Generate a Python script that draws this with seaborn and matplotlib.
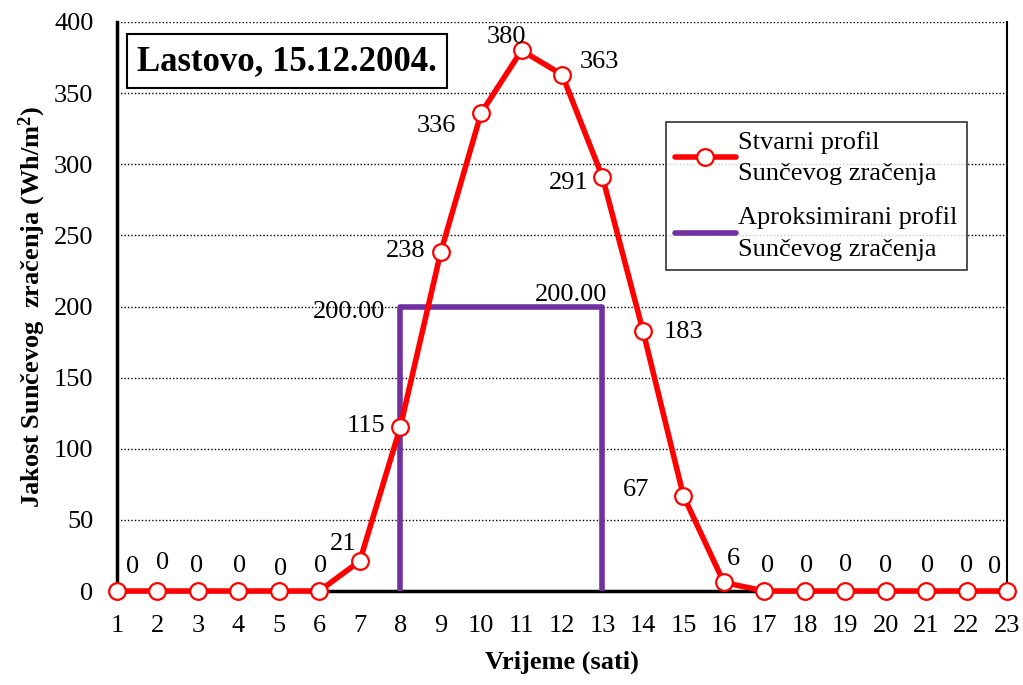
import matplotlib
matplotlib.use("Agg")
import matplotlib.pyplot as plt
import seaborn as sns
import pandas as pd

# Hourly solar irradiance on Lastovo, 15.12.2004
hours = list(range(1, 24))
irradiance = [0, 0, 0, 0, 0, 0, 21, 115, 238, 336, 380, 363, 291, 183, 67, 6,
              0, 0, 0, 0, 0, 0, 0]

# Rectangular approximation of the profile
approx_x = [8, 8, 13, 13]
approx_y = [0, 200, 200, 0]
approx_level = 200.00

# Label offsets (points) for each measured value
label_offsets = [(11, 17), (4, 20), (-1, 18), (1, 18), (1, 16), (1, 18),
                 (-12, 12), (-25, 1), (-25, 1), (-32, -9), (-11, 10),
                 (27, 9), (-24, -4), (29, -1), (-34, 4), (7, 17),
                 (2, 18), (1, 18), (0, 19), (0, 18), (1, 18), (0, 18), (-9, 17)]

sns.set_style("white")
plt.rcParams["font.family"] = ["Liberation Serif", "DejaVu Serif"]
plt.rcParams["mathtext.fontset"] = "custom"
plt.rcParams["mathtext.rm"] = "Liberation Serif"
plt.rcParams["mathtext.bf"] = "Liberation Serif:bold"
for key in ("text.color", "axes.labelcolor", "xtick.color", "ytick.color"):
    plt.rcParams[key] = "black"

FS = 19

fig = plt.figure(figsize=(10.23, 6.85), dpi=100)
ax = fig.add_axes([0.1144, 0.1372, 0.8700, 0.8307])

df = pd.DataFrame({"sat": hours, "W": irradiance})
df_ap = pd.DataFrame({"sat": approx_x, "W": approx_y})

sns.lineplot(data=df_ap, x="sat", y="W", ax=ax, sort=False, estimator=None,
             color="#7030A0", linewidth=4,
             label="Aproksimirani profil\nSunčevog zračenja", zorder=3)
sns.lineplot(data=df, x="sat", y="W", ax=ax, estimator=None, color="#FF0000",
             linewidth=4, marker="o", markersize=12, markerfacecolor="white",
             markeredgecolor="#FF0000", markeredgewidth=1.6,
             label="Stvarni profil\nSunčevog zračenja", zorder=4, clip_on=False)

for h, v, (dx, dy) in zip(hours, irradiance, label_offsets):
    ax.annotate(f"{v}", (h, v), xytext=(dx, dy), textcoords="offset points",
                ha="center", va="center", fontsize=FS, zorder=6)

ax.annotate(f"{approx_level:.2f}", (8, approx_level), xytext=(-37, -4),
            textcoords="offset points", ha="center", va="center", fontsize=FS)
ax.annotate(f"{approx_level:.2f}", (12.22, approx_level), xytext=(0, 8),
            textcoords="offset points", ha="center", va="center", fontsize=FS)

ax.set_xlim(1, 23)
ax.set_ylim(0, 400)
ax.set_xticks(hours)
ax.set_yticks(range(0, 401, 50))
ax.tick_params(axis="both", labelsize=FS, direction="out", length=7,
               width=1.5, color="black", pad=10)
ax.tick_params(axis="x", pad=10)

ax.yaxis.grid(True, linestyle=(0, (1, 1.5)), color="black", linewidth=1)
ax.xaxis.grid(False)
ax.set_axisbelow(True)

ax.spines["top"].set_visible(False)
for side in ("left", "bottom", "right"):
    ax.spines[side].set_color("black")
ax.spines["left"].set_linewidth(2.5)
ax.spines["bottom"].set_linewidth(2.5)
ax.spines["right"].set_linewidth(1.5)

ax.set_xlabel("Vrijeme (sati)", fontsize=FS, fontweight="bold", labelpad=10)
ax.set_ylabel("Jakost Sunčevog  zračenja (Wh/m$\\mathbf{^2}$)", fontsize=FS,
              fontweight="bold", labelpad=4)

ax.text(0.0225, 0.931, "Lastovo, 15.12.2004.", transform=ax.transAxes,
        fontsize=25, fontweight="bold", ha="left", va="center",
        bbox=dict(boxstyle="square,pad=0.3", facecolor="white",
                  edgecolor="black", linewidth=1.5))

handles, labels = ax.get_legend_handles_labels()
leg = ax.legend(handles[::-1], labels[::-1], loc="upper right",
                bbox_to_anchor=(0.9697, 0.848), fontsize=FS, frameon=True,
                fancybox=False, edgecolor="black", handlelength=2.3,
                handletextpad=0.1, labelspacing=0.8, borderpad=0.35)
leg.get_frame().set_linewidth(1.2)
for t in leg.get_texts():
    t.set_linespacing(1.55)

fig.savefig("out.png", dpi=100)
